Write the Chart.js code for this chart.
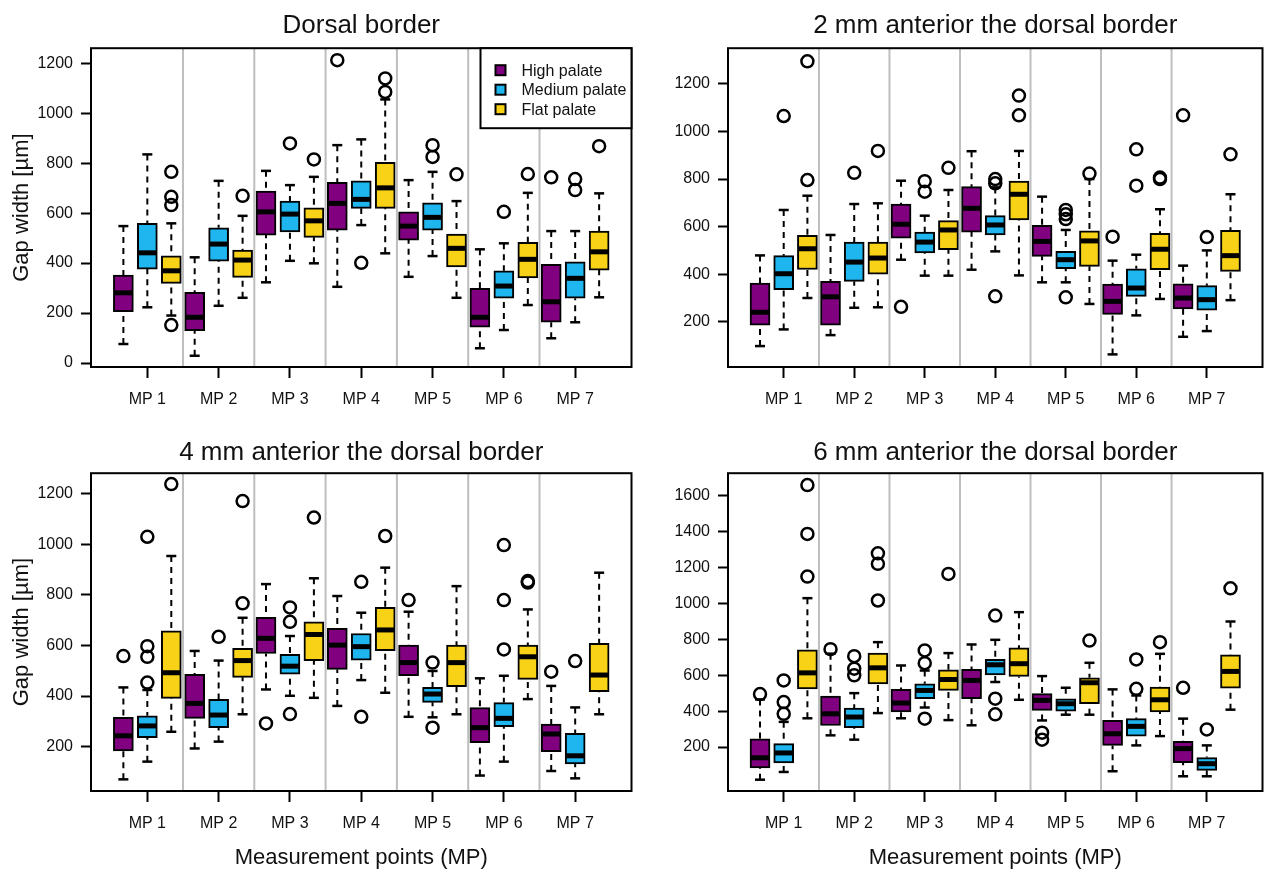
<!DOCTYPE html>
<html>
<head>
<meta charset="utf-8">
<script src="https://cdn.jsdelivr.net/npm/chart.js@4.4.1/dist/chart.umd.min.js"></script>
<style>
    body { margin: 0; background: #fff; }
    #page { position: relative; width: 1271px; height: 875px; overflow: hidden; }
    .panel { position: absolute; }
</style>
</head>
<body>
<div id="page">
    <div class="panel" style="left:0;top:0;width:640px;height:437px"><canvas id="dorsal"></canvas></div>
    <div class="panel" style="left:640px;top:0;width:631px;height:437px"><canvas id="mm2"></canvas></div>
    <div class="panel" style="left:0;top:437px;width:640px;height:438px"><canvas id="mm4"></canvas></div>
    <div class="panel" style="left:640px;top:437px;width:631px;height:438px"><canvas id="mm6"></canvas></div>
</div>
<script>
const categories = ['MP 1', 'MP 2', 'MP 3', 'MP 4', 'MP 5', 'MP 6', 'MP 7'];
const groupNames = ['High palate', 'Medium palate', 'Flat palate'];

// each row: [lower whisker, Q1, median, Q3, upper whisker]
const dorsalHigh = [[76,205,281,352,548],[29,129,183,283,423],[323,512,605,688,769],[305,532,639,723,872],[345,492,548,605,732],[59,143,183,299,455],[99,163,245,395,528]];
const dorsalMed = [[223,376,441,559,835],[229,408,476,541,729],[409,525,596,648,712],[552,619,655,729,895],[428,532,583,641,765],[132,259,308,369,479],[163,259,339,405,528]];
const dorsalFlat = [[190,319,369,429,559],[261,343,412,452,589],[399,503,569,621,745],[439,619,701,803,1055],[261,385,459,516,648],[232,341,415,483,681],[263,372,445,528,679]];
const dorsalHighOut = [[],[],[],[1212],[],[],[743]];
const dorsalMedOut = [[],[],[879],[401],[872,825],[605],[736,692]];
const dorsalFlatOut = [[765,665,632,152],[669],[815],[1139,1085],[755],[756],[868]];

const mm2High = [[98,186,240,363,479],[144,186,305,370,565],[461,552,610,695,793],[419,577,677,768,917],[366,475,538,605,726],[63,231,286,359,457],[137,254,300,360,436]];
const mm2Med = [[168,335,402,478,670],[259,370,451,535,695],[394,489,535,577,646],[496,565,607,646,765],[366,423,461,496,586],[227,307,342,423,482],[161,249,293,352,500]];
const mm2Flat = [[300,420,507,563,730],[261,400,468,535,698],[394,503,586,625,754],[395,628,736,791,918],[275,433,540,582,800],[296,419,505,572,673],[291,412,478,584,736]];
const mm2HighOut = [[],[],[263],[],[],[558],[1068]];
const mm2MedOut = [[1065],[826],[791,747],[800,782,307],[670,652,632,303],[925,772],[556]];
const mm2FlatOut = [[796,1295],[918],[847],[1151,1068],[823],[806,800],[904]];

const mm4High = [[71,183,243,316,434],[193,312,371,486,578],[426,568,628,711,842],[361,505,601,667,795],[318,480,532,601,733],[86,216,275,354,470],[104,180,250,289,440]];
const mm4Med = [[141,236,282,322,424],[220,275,325,387,540],[401,486,518,565,637],[463,542,595,647,729],[316,375,408,434,499],[141,279,312,374,480],[75,132,164,253,355]];
const mm4Flat = [[259,391,492,658,953],[328,474,540,588,709],[393,540,643,693,865],[413,579,661,750,907],[328,437,532,601,834],[388,466,555,601,742],[328,417,483,608,887]];
const mm4HighOut = [[558],[],[292],[],[779],[],[496]];
const mm4MedOut = [[1029,597,555,453],[634],[750,693,329],[851,318],[532,275],[996,779,584],[538]];
const mm4FlatOut = [[1237],[1170,766],[1105],[1032],[],[854,848],[]];

const mm6High = [[18,83,140,246,465],[265,320,385,484,720],[360,395,445,521,654],[321,469,571,632,771],[348,404,460,497,595],[65,209,274,348,521],[37,113,191,232,358]];
const mm6Med = [[61,111,167,219,340],[241,308,367,417,500],[420,469,515,552,626],[562,602,658,688,797],[380,400,441,469,530],[209,261,315,358,487],[37,70,107,141,209]];
const mm6Flat = [[360,524,613,741,1029],[389,552,641,723,784],[350,515,576,630,723],[463,593,664,752,951],[380,441,558,586,669],[261,395,463,534,719],[408,528,621,714,899]];
const mm6HighOut = [[495],[745],[],[],[280,241],[],[530]];
const mm6MedOut = [[571,450,385],[706,636,599],[738,667,358],[932,469,382],[],[688,524],[298]];
const mm6FlatOut = [[1659,1387,1149],[1279,1220,1016],[1164],[],[793],[784],[1084]];

const ticksTo1200 = [0, 200, 400, 600, 800, 1000, 1200];
const ticks200To1200 = [200, 400, 600, 800, 1000, 1200];
const ticks200To1600 = [200, 400, 600, 800, 1000, 1200, 1400, 1600];

const groupColors = ['#800080', '#1fb6ef', '#f8d216'];
const groupShift = [-0.336, 0, 0.336];
const fontFamily = '"Liberation Sans", Arial, Helvetica, sans-serif';

function line(ctx, x1, y1, x2, y2) {
    ctx.beginPath();
    ctx.moveTo(x1, y1);
    ctx.lineTo(x2, y2);
    ctx.stroke();
}

function boxPlugin(showLegend) {
    return {
        id: 'boxWhiskers',
        beforeDatasetsDraw(chart) {
            const {ctx, chartArea: area, scales: {x, y}} = chart;
            ctx.save();
            ctx.strokeStyle = '#bebebe';
            ctx.lineWidth = 2;
            for (let i = 0; i < categories.length - 1; i++) {
                const px = x.getPixelForValue(i + 0.5);
                line(ctx, px, area.top, px, area.bottom);
            }
            ctx.strokeStyle = '#000';
            chart.data.datasets.forEach(ds => {
                if (!ds.stats) return;
                ds.stats.forEach((s, i) => {
                    const px = x.getPixelForValue(i + ds.shift);
                    ctx.lineWidth = 2;
                    ctx.setLineDash([6, 5]);
                    line(ctx, px, y.getPixelForValue(s[0]), px, y.getPixelForValue(s[1]));
                    line(ctx, px, y.getPixelForValue(s[4]), px, y.getPixelForValue(s[3]));
                    ctx.setLineDash([]);
                    ctx.lineWidth = 2.5;
                    line(ctx, px - 5, y.getPixelForValue(s[0]), px + 5, y.getPixelForValue(s[0]));
                    line(ctx, px - 5, y.getPixelForValue(s[4]), px + 5, y.getPixelForValue(s[4]));
                });
            });
            ctx.restore();
        },
        afterDatasetsDraw(chart) {
            const {ctx, chartArea: area, scales: {x, y}} = chart;
            ctx.save();
            ctx.strokeStyle = '#000';
            ctx.lineWidth = 5;
            chart.data.datasets.forEach(ds => {
                if (!ds.stats) return;
                ds.stats.forEach((s, i) => {
                    const px = x.getPixelForValue(i + ds.shift);
                    const py = y.getPixelForValue(s[2]);
                    line(ctx, px - 9, py, px + 9, py);
                });
            });
            ctx.lineWidth = 2;
            ctx.strokeRect(area.left, area.top, area.right - area.left, area.bottom - area.top);

            if (showLegend) {
                const w = 151, h = 80;
                const lx = area.right - w, ly = area.top;
                ctx.fillStyle = '#fff';
                ctx.fillRect(lx, ly, w, h);
                ctx.strokeRect(lx, ly, w, h);
                ctx.font = '16px ' + fontFamily;
                ctx.textBaseline = 'middle';
                groupNames.forEach((name, g) => {
                    const cy = ly + 22 + g * 19.5;
                    ctx.fillStyle = groupColors[g];
                    ctx.fillRect(lx + 15, cy - 5, 10, 10);
                    ctx.lineWidth = 2;
                    ctx.strokeRect(lx + 15, cy - 5, 10, 10);
                    ctx.fillStyle = '#111';
                    ctx.fillText(name, lx + 41, cy + 1);
                });
            }
            ctx.restore();
        }
    };
}

function boxChart(id, setup) {
    const datasets = [];
    setup.stats.forEach((stats, g) => {
        datasets.push({
            type: 'bar',
            label: groupNames[g],
            stats: stats,
            shift: groupShift[g],
            data: stats.map((s, i) => ({x: i + groupShift[g], y: [s[1], s[3]]})),
            backgroundColor: groupColors[g],
            borderColor: '#000',
            borderWidth: 2,
            borderSkipped: false,
            barThickness: 20,
            grouped: false
        });
    });
    setup.outliers.forEach((outs, g) => {
        datasets.push({
            type: 'scatter',
            label: groupNames[g] + ' outliers',
            data: outs.flatMap((vals, i) => vals.map(v => ({x: i + groupShift[g], y: v}))),
            pointStyle: 'circle',
            pointRadius: 6,
            pointBorderWidth: 2.5,
            pointBorderColor: '#000',
            pointBackgroundColor: 'rgba(0,0,0,0)'
        });
    });

    return new Chart(document.getElementById(id), {
        type: 'bar',
        data: {datasets},
        options: {
            responsive: true,
            maintainAspectRatio: false,
            animation: false,
            events: [],
            layout: {padding: {left: 0, right: setup.padRight, top: 0, bottom: 0}},
            plugins: {
                legend: {display: false},
                tooltip: {enabled: false},
                title: {
                    display: true,
                    fullSize: false,
                    text: setup.title,
                    color: '#111',
                    font: {family: fontFamily, size: 26, weight: 'normal'},
                    padding: setup.titlePad
                }
            },
            scales: {
                x: {
                    type: 'linear',
                    min: -0.79,
                    max: 6.79,
                    offset: false,
                    afterBuildTicks: s => { s.ticks = categories.map((c, i) => ({value: i})); },
                    afterFit: s => { s.height = setup.bottomHeight; },
                    ticks: {
                        callback: v => categories[v],
                        autoSkip: false,
                        maxRotation: 0,
                        padding: 12,
                        color: '#111',
                        font: {family: fontFamily, size: 16}
                    },
                    grid: {offset: false, drawOnChartArea: false, tickLength: 11, tickColor: '#000', tickWidth: 2},
                    border: {display: false},
                    title: {
                        display: setup.xTitle,
                        text: 'Measurement points (MP)',
                        color: '#111',
                        font: {family: fontFamily, size: 22},
                        padding: {top: 0, bottom: 4}
                    }
                },
                y: {
                    min: setup.range[0],
                    max: setup.range[1],
                    afterBuildTicks: s => { s.ticks = setup.ticks.map(v => ({value: v})); },
                    afterFit: s => { s.width = setup.leftWidth; },
                    ticks: {
                        callback: v => String(v),
                        padding: 8,
                        color: '#111',
                        font: {family: fontFamily, size: 16}
                    },
                    grid: {drawOnChartArea: false, tickLength: 10, tickColor: '#000', tickWidth: 2},
                    border: {display: false},
                    title: {
                        display: setup.yTitle,
                        text: 'Gap width [µm]',
                        color: '#111',
                        font: {family: fontFamily, size: 22},
                        padding: {top: 9, bottom: 0}
                    }
                }
            }
        },
        plugins: [boxPlugin(setup.legend)]
    });
}

const dorsalChart = boxChart('dorsal', {
    title: 'Dorsal border',
    stats: [dorsalHigh, dorsalMed, dorsalFlat],
    outliers: [dorsalHighOut, dorsalMedOut, dorsalFlatOut],
    range: [-16, 1260], ticks: ticksTo1200,
    titlePad: {top: 10, bottom: 7}, bottomHeight: 70, leftWidth: 91, padRight: 7,
    xTitle: false, yTitle: true, legend: true
});

const mm2Chart = boxChart('mm2', {
    title: '2 mm anterior the dorsal border',
    stats: [mm2High, mm2Med, mm2Flat],
    outliers: [mm2HighOut, mm2MedOut, mm2FlatOut],
    range: [10, 1350], ticks: ticks200To1200,
    titlePad: {top: 10, bottom: 7}, bottomHeight: 70, leftWidth: 88, padRight: 2,
    xTitle: false, yTitle: false, legend: false
});

const mm4Chart = boxChart('mm4', {
    title: '4 mm anterior the dorsal border',
    stats: [mm4High, mm4Med, mm4Flat],
    outliers: [mm4HighOut, mm4MedOut, mm4FlatOut],
    range: [25, 1280], ticks: ticks200To1200,
    titlePad: {top: 0, bottom: 5}, bottomHeight: 84, leftWidth: 91, padRight: 7,
    xTitle: true, yTitle: true, legend: false
});

const mm6Chart = boxChart('mm6', {
    title: '6 mm anterior the dorsal border',
    stats: [mm6High, mm6Med, mm6Flat],
    outliers: [mm6HighOut, mm6MedOut, mm6FlatOut],
    range: [-45, 1725], ticks: ticks200To1600,
    titlePad: {top: 0, bottom: 5}, bottomHeight: 84, leftWidth: 88, padRight: 2,
    xTitle: true, yTitle: false, legend: false
});
</script>
</body>
</html>
